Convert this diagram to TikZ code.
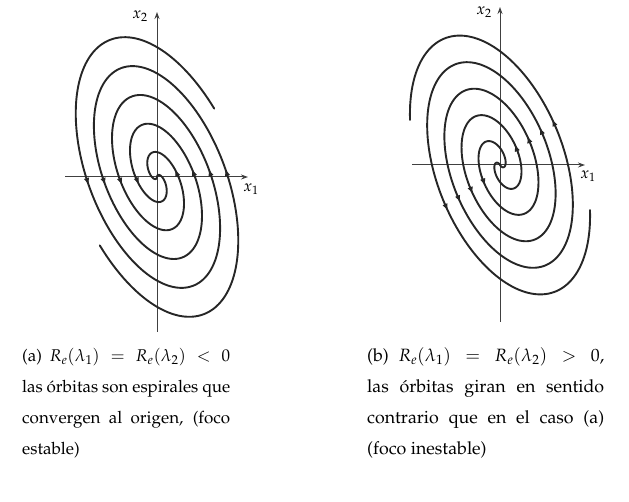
\documentclass[tikz,border=0pt]{standalone}
\usepackage[T1]{fontenc}
\usepackage{mathpazo}
\usetikzlibrary{arrows.meta}
\begin{document}
\begin{tikzpicture}[x=1pt,y=1pt,
  declare function={
    sA(\t)=78.5-5.8*(\t-3.583);
    ax(\t)=sA(\t)*cos(\t r);
    ay(\t)=sA(\t)*(-0.68*cos(\t r)+1.44*sin(\t r));
    sB(\t)=90.5-5.5*(\t-3.035);
    bx(\t)=sB(\t)*cos(\t r);
    by(\t)=sB(\t)*(-0.65*cos(\t r)-1.4*sin(\t r));
  },
  orbit/.style={line width=1.9pt, draw=black!85, line cap=round},
  axisline/.style={line width=1pt, draw=black!75, -{Stealth[length=7pt,width=5pt]}},
  flow/.style={-{Latex[length=7pt,width=5.5pt]}, line width=1pt, draw=black!85},
  axislabel/.style={inner sep=0pt, font=\fontsize{16}{18}\selectfont},
  caption/.style={anchor=base west, inner sep=0pt, font=\fontsize{17}{31}\selectfont},
  captionb/.style={caption, font=\fontsize{17.8}{31}\selectfont}
]
\useasboundingbox (0,0) rectangle (629,502);

% ---------- left: stable focus ----------
\begin{scope}[shift={(157,325)}]
  \draw[axisline] (-92,0) -- (91,0);
  \draw[axisline] (0,-155) -- (0,165);
  \node[axislabel] (lx1) at (94,-12) {$x_1$};
  \node[axislabel] (lx2) at (-17,161) {$x_2$};
  \draw[orbit] plot[domain=0.916:17.117, samples=400, variable=\t] ({ax(\t)},{ay(\t)});
  \draw[orbit] plot[domain=0.916:17.117, samples=400, variable=\t] ({-ax(\t)},{-ay(\t)});
  \foreach \u in {3.583,6.724,9.866,13.007} {
    \pgfmathsetmacro\ta{\u-3/sA(\u)}
    \pgfmathsetmacro\tb{\u+5/sA(\u)}
    \draw[flow] ({ax(\ta)},{ay(\ta)}) -- ({ax(\tb)},{ay(\tb)});
    \draw[flow] ({-ax(\ta)},{-ay(\ta)}) -- ({-ax(\tb)},{-ay(\tb)});
  }
\end{scope}

% ---------- right: unstable focus ----------
\begin{scope}[shift={(500,337)}]
  \draw[axisline] (-88,0) -- (85,0);
  \draw[axisline] (0,-157) -- (0,158);
  \node[axislabel] (rx1) at (88,-11) {$x_1$};
  \node[axislabel] (rx2) at (-16,153) {$x_2$};
  \draw[orbit] plot[domain=3.035:19.49, samples=400, variable=\t] ({bx(\t)},{by(\t)});
  \draw[orbit] plot[domain=3.035:19.49, samples=400, variable=\t] ({-bx(\t)},{-by(\t)});
  \foreach \u in {5.52,8.66,11.80,14.94} {
    \pgfmathsetmacro\ta{\u+3/sB(\u)}
    \pgfmathsetmacro\tb{\u-5/sB(\u)}
    \draw[flow] ({bx(\ta)},{by(\ta)}) -- ({bx(\tb)},{by(\tb)});
    \draw[flow] ({-bx(\ta)},{-by(\ta)}) -- ({-bx(\tb)},{-by(\tb)});
  }
\end{scope}

% ---------- captions ----------
\node[caption] (ca1) at (22,140.5) {\makebox[208pt][s]{(a) $R_e(\lambda_1) = R_e(\lambda_2) < 0$}};
\node[caption] (ca2) at (22,109.3) {\makebox[208pt][s]{las \'orbitas son espirales que}};
\node[caption] (ca3) at (22,78) {\makebox[208pt][s]{convergen al origen, (foco}};
\node[caption] (ca4) at (22,47) {estable)};

\node[captionb] (cb1) at (367,140.5) {\makebox[237pt][s]{(b) $R_e(\lambda_1) = R_e(\lambda_2) > 0$,}};
\node[captionb] (cb2) at (367,109.3) {\makebox[237pt][s]{las \'orbitas giran en sentido}};
\node[captionb] (cb3) at (367,78) {\makebox[237pt][s]{contrario que en el caso (a)}};
\node[captionb] (cb4) at (367,47) {(foco inestable)};
\end{tikzpicture}
\end{document}
